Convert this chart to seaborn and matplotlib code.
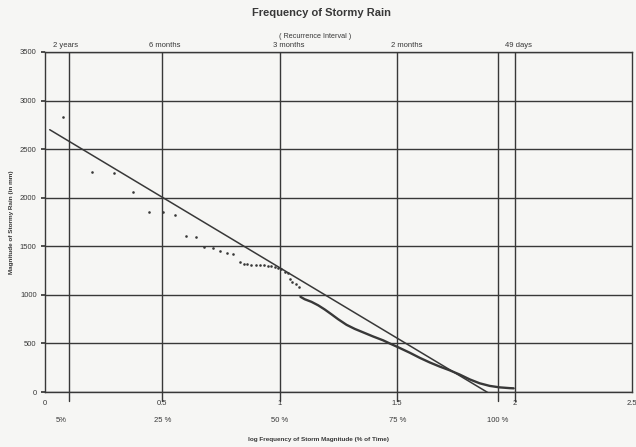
import matplotlib
matplotlib.use("Agg")
import matplotlib.pyplot as plt
import matplotlib.transforms as mtransforms
import seaborn as sns
import pandas as pd

# ---- data ----
# sparse individual storm points (log frequency, magnitude in mm)
sparse_x = [0.075, 0.199, 0.295, 0.376, 0.444, 0.501, 0.552, 0.599, 0.641,
            0.678, 0.714, 0.745, 0.776, 0.799, 0.830, 0.847, 0.862, 0.879,
            0.897, 0.915, 0.932, 0.948, 0.964, 0.979, 0.993, 1.007, 1.021,
            1.035, 1.043, 1.054, 1.067, 1.081]
sparse_y = [2828, 2268, 2251, 2062, 1856, 1856, 1822, 1606, 1599,
            1496, 1485, 1455, 1428, 1420, 1335, 1318, 1314, 1312,
            1310, 1308, 1305, 1302, 1298, 1290, 1280, 1263, 1238,
            1221, 1160, 1129, 1108, 1077]

# dense run of storm points (drawn as a continuous trace)
dense_x = [1.088, 1.106, 1.135, 1.163, 1.191, 1.220, 1.248, 1.284, 1.319,
           1.362, 1.397, 1.440, 1.468, 1.503, 1.553, 1.596, 1.638, 1.681,
           1.723, 1.766, 1.809, 1.851, 1.894, 1.936, 1.979, 1.996]
dense_y = [980, 955, 928, 893, 850, 800, 750, 692, 650,
           607, 572, 532, 500, 462, 405, 352, 305, 262,
           224, 180, 130, 90, 63, 48, 40, 38]

# fitted trend line
fit_x = [0.02, 1.90]
fit_y = [2700, -26]

# axis ticks / labels
y_ticks = [0, 500, 1000, 1500, 2000, 2500, 3000, 3500]
x_ticks = [0, 0.5, 1, 1.5, 2, 2.5]
x_tick_labels = ["0", "0.5", "1", "1.5", "2", "2.5"]
vgrid_x = [0.1, 0.5, 1.0, 1.5, 1.93, 2.0]
pct_labels = ["5%", "25 %", "50 %", "75 %", "100 %"]
pct_pos = [0.07, 0.5, 1.0, 1.5, 1.93]
recur_labels = ["2 years", "6 months", "3 months", "2 months", "49 days"]
recur_pos = [0.089, 0.51, 1.038, 1.54, 2.017]

title = "Frequency of Stormy Rain"
recur_title = "( Recurrence Interval )"
x_label = "log Frequency of Storm Magnitude (% of Time)"
y_label = "Magnitude of Stormy Rain (in mm)"

# ---- drawing ----
sns.set_theme(style="white")
plt.rcParams["font.family"] = ["Liberation Sans", "DejaVu Sans"]

ink = "#383838"
bg = "#f6f6f4"

fig = plt.figure(figsize=(6.36, 4.47), dpi=100, facecolor=bg)
ax = fig.add_axes([0.0708, 0.123, 0.9229, 0.7607])
ax.set_facecolor(bg)

# gridlines
for yv in y_ticks:
    ax.axhline(yv, color=ink, lw=1.0, zorder=1)
for xv in vgrid_x:
    ax.axvline(xv, color=ink, lw=1.0, zorder=1)

df_sparse = pd.DataFrame({"x": sparse_x, "y": sparse_y})
df_dense = pd.DataFrame({"x": dense_x, "y": dense_y})
df_fit = pd.DataFrame({"x": fit_x, "y": fit_y})

sns.lineplot(data=df_fit, x="x", y="y", ax=ax, color=ink, lw=1.1,
             sort=False, zorder=3)
sns.scatterplot(data=df_sparse, x="x", y="y", ax=ax, color=ink, s=3.5,
                marker="o", linewidth=0, zorder=4)
sns.lineplot(data=df_dense, x="x", y="y", ax=ax, color=ink, lw=1.7,
             sort=False, zorder=4)

ax.set_xlim(0, 2.5)
ax.set_ylim(0, 3500)
ax.set_xticks(x_ticks)
ax.set_xticklabels(x_tick_labels)
ax.set_yticks(y_ticks)
ax.set_yticklabels([str(v) for v in y_ticks])
ax.tick_params(axis="both", labelsize=5.5, colors=ink, length=0, pad=6)
ax.tick_params(axis="y", length=3, direction="out", left=True, pad=3)
ax.set_xlabel("")
ax.set_ylabel("")
for sp in ax.spines.values():
    sp.set_color(ink)
    sp.set_linewidth(1.0)

# extend the vertical lines slightly below the axis (Excel style)
trans_x = mtransforms.blended_transform_factory(ax.transData, ax.transAxes)
for xv in vgrid_x:
    ax.plot([xv, xv], [0, -0.025], transform=trans_x, color=ink, lw=1.0,
            clip_on=False)

# percentage labels under the axis
for lab, xv in zip(pct_labels, pct_pos):
    ax.text(xv, -0.083, lab, transform=trans_x, ha="center", va="center",
            fontsize=5.5, color=ink)

# recurrence interval labels above the plot
for lab, xv in zip(recur_labels, recur_pos):
    ax.text(xv, 1.02, lab, transform=trans_x, ha="center", va="center",
            fontsize=5.5, color=ink)

fig.text(315 / 636, 1 - 36 / 447, recur_title, ha="center", va="center",
         fontsize=5.2, color=ink)
fig.text(322 / 636, 1 - 13 / 447, title, ha="center", va="center",
         fontsize=8, fontweight="bold", color=ink)
fig.text(318 / 636, 1 - 439 / 447, x_label, ha="center", va="center",
         fontsize=4.6, color=ink, fontweight="bold")
fig.text(12 / 636, 1 - 222 / 447, y_label, ha="center", va="center",
         rotation=90, fontsize=4.6, color=ink, fontweight="bold")

fig.savefig("out.png", dpi=100, facecolor=bg)
